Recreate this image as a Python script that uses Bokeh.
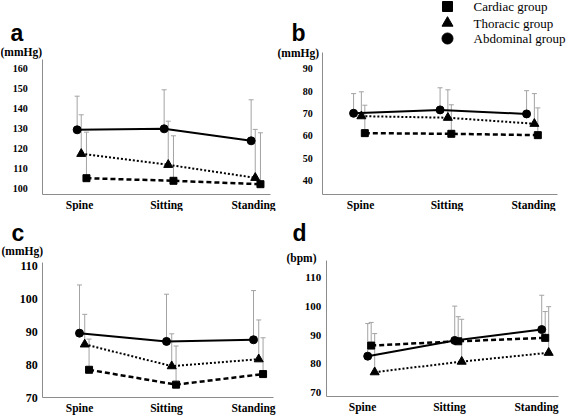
from bokeh.plotting import figure
from bokeh.models import FixedTicker, Label, Whisker, TeeHead, ColumnDataSource, Range1d
from bokeh.layouts import column, row
from bokeh.embed import file_html
from bokeh.resources import INLINE

# ---------------- data ----------------
categories = ["Spine", "Sitting", "Standing"]
group_names = ["Cardiac group", "Thoracic group", "Abdominal group"]

# panel a (mmHg)
a_cardiac = [105.3, 104.0, 102.3]
a_cardiac_sd = [23.0, 22.5, 25.7]
a_thoracic = [117.5, 112.0, 105.5]
a_thoracic_sd = [19.5, 21.8, 24.2]
a_abdominal = [129.5, 130.0, 124.0]
a_abdominal_sd = [16.8, 19.5, 20.5]
a_ticks = [100, 110, 120, 130, 140, 150, 160]

# panel b (mmHg)
b_cardiac = [61.2, 60.9, 60.3]
b_cardiac_sd = [12.5, 13.0, 12.2]
b_thoracic = [68.8, 68.1, 65.4]
b_thoracic_sd = [10.9, 12.5, 13.5]
b_abdominal = [70.1, 71.6, 69.8]
b_abdominal_sd = [8.8, 9.9, 10.4]
b_ticks = [40, 50, 60, 70, 80, 90]

# panel c (mmHg)
c_cardiac = [78.4, 73.9, 77.1]
c_cardiac_sd = [9.3, 11.7, 11.0]
c_thoracic = [86.1, 79.5, 81.6]
c_thoracic_sd = [9.1, 9.8, 11.9]
c_abdominal = [89.5, 87.0, 87.5]
c_abdominal_sd = [14.6, 14.3, 14.9]
c_ticks = [70, 80, 90, 100, 110]

# panel d (bpm)
d_cardiac = [86.3, 87.8, 89.0]
d_cardiac_sd = [8.1, 8.6, 9.2]
d_thoracic = [77.0, 80.7, 83.8]
d_thoracic_sd = [13.5, 14.8, 16.1]
d_abdominal = [82.6, 88.1, 91.9]
d_abdominal_sd = [11.4, 12.0, 12.0]
d_ticks = [70, 80, 90, 100, 110]

# ---------------- layout geometry ----------------
COL_W = [276, 291]
ROW_H = [211, 206]

ERR_COLOR = "#a3a3a3"
AXIS_COLOR = "#8c8c8c"

# axis box (L, R, T, B) in page px, category px, tick px
GEOM = {
    "a": dict(col=0, rowi=0, frame=(42.3, 270, 59.3, 194), cat=(79, 253),
              tick=((100, 188.3), (160, 68.3)), ystand=15, ysize="10px",
              offs=(0.08, 0.02, -0.027)),
    "b": dict(col=1, rowi=0, frame=(322.3, 557, 52, 194), cat=(360, 533),
              tick=((40, 180), (90, 68.3)), ystand=10, ysize="10px",
              offs=(0.05, 0.01, -0.08)),
    "c": dict(col=0, rowi=1, frame=(42.3, 273, 261.7, 397), cat=(79, 253),
              tick=((70, 397), (110, 265)), ystand=5, ysize="12px",
              offs=(0.11, 0.06, 0.0)),
    "d": dict(col=1, rowi=1, frame=(325.7, 558, 260, 396), cat=(362, 536),
              tick=((70, 391.7), (110, 277.3)), ystand=5, ysize="11px",
              offs=(0.10, 0.14, 0.06)),
}


def make_panel(key, series, ticks, letter, unit, letter_pos, unit_pos):
    g = GEOM[key]
    L, R, T, B = g["frame"]
    c0, c1 = g["cat"]
    ppx = (c1 - c0) / 2.0
    (v0, p0), (v1, p1) = g["tick"]
    ppy = (p0 - p1) / (v1 - v0)

    def ydat(py):
        return v0 + (p0 - py) / ppy

    def xdat(px):
        return (px - c0) / ppx

    ox = sum(COL_W[: g["col"]])
    oy = sum(ROW_H[: g["rowi"]])
    W, H = COL_W[g["col"]], ROW_H[g["rowi"]]
    x_range = Range1d(xdat(ox), xdat(ox + W))
    y_range = Range1d(ydat(oy + H), ydat(oy))

    p = figure(width=W, height=H, x_range=x_range, y_range=y_range,
               output_backend="svg", toolbar_location=None, title=None,
               min_border=0, min_border_left=0, min_border_right=0,
               min_border_top=0, min_border_bottom=0)
    p.xgrid.visible = False
    p.ygrid.visible = False
    p.outline_line_color = None
    p.background_fill_color = "white"
    p.border_fill_color = "white"

    for ax in (p.xaxis[0], p.yaxis[0]):
        ax.axis_line_color = AXIS_COLOR
        ax.axis_line_width = 1
        ax.major_tick_line_color = None
        ax.minor_tick_line_color = None
        ax.major_tick_out = 0
        ax.major_tick_in = 0
        ax.major_label_text_font = "Liberation Serif"
        ax.major_label_text_font_style = "bold"
        ax.major_label_text_color = "black"

    p.xaxis.ticker = FixedTicker(ticks=[0, 1, 2])
    p.xaxis.major_label_overrides = {i: c for i, c in enumerate(categories)}
    p.xaxis.major_label_text_font_size = "11.5px"
    p.xaxis.major_label_standoff = 4
    p.xaxis.fixed_location = ydat(B)
    p.xaxis.bounds = (xdat(L), xdat(R))
    p.yaxis.ticker = FixedTicker(ticks=ticks)
    p.yaxis.major_label_text_font_size = g["ysize"]
    p.yaxis.major_label_standoff = g["ystand"]
    p.yaxis.fixed_location = xdat(L)
    p.yaxis.bounds = (ydat(B), ydat(T))

    styles = [
        ("square", 7, "5 3", 2.5),     # cardiac
        ("triangle", 9, "2 2", 2.0),   # thoracic
        ("circle", 8, "solid", 2.0),   # abdominal
    ]
    for (mean, sd), (marker, size, dash, lw), off in zip(series, styles, g["offs"]):
        xs = [i + off for i in range(len(categories))]
        src = ColumnDataSource(dict(x=xs, y=mean, upper=[m + s for m, s in zip(mean, sd)]))
        p.add_layout(Whisker(source=src, base="x", lower="y", upper="upper",
                             line_color=ERR_COLOR, line_width=1, lower_head=None,
                             upper_head=TeeHead(size=5, line_color=ERR_COLOR, line_width=1)))
        p.line("x", "y", source=src, line_color="black", line_width=lw, line_dash=dash)
        p.scatter("x", "y", source=src, marker=marker, size=size,
                  fill_color="black", line_color="black")

    p.add_layout(Label(x=xdat(letter_pos[0]), y=ydat(letter_pos[1]), text=letter,
                       text_font="Liberation Sans", text_font_style="bold",
                       text_font_size="23px", text_baseline="alphabetic",
                       text_align="left", text_color="black"))
    p.add_layout(Label(x=xdat(unit_pos[0]), y=ydat(unit_pos[1]), text=unit,
                       text_font="Liberation Serif", text_font_style="bold",
                       text_font_size="11.5px", text_baseline="middle",
                       text_align="left", text_color="black"))
    return p, xdat, ydat


pa, _, _ = make_panel("a", [(a_cardiac, a_cardiac_sd), (a_thoracic, a_thoracic_sd),
                            (a_abdominal, a_abdominal_sd)], a_ticks, "a", "(mmHg)",
                      (10, 32), (0, 51))
pb, bx, by = make_panel("b", [(b_cardiac, b_cardiac_sd), (b_thoracic, b_thoracic_sd),
                              (b_abdominal, b_abdominal_sd)], b_ticks, "b", "(mmHg)",
                        (291, 32), (277, 52))
pc, _, _ = make_panel("c", [(c_cardiac, c_cardiac_sd), (c_thoracic, c_thoracic_sd),
                            (c_abdominal, c_abdominal_sd)], c_ticks, "c", "(mmHg)",
                      (11, 232), (1, 250))
pd_, _, _ = make_panel("d", [(d_cardiac, d_cardiac_sd), (d_thoracic, d_thoracic_sd),
                             (d_abdominal, d_abdominal_sd)], d_ticks, "d", "(bpm)",
                       (292, 232), (286, 257))

# legend (top right, in panel b)
legend_markers = ["square", "triangle", "circle"]
legend_sizes = [10, 11, 11]
legend_y = [6, 22.5, 38]
pb.scatter(x=[bx(447)] * 3, y=[by(v) for v in legend_y], marker=legend_markers,
           size=legend_sizes, fill_color="black", line_color="black")
for name, ly in zip(group_names, legend_y):
    pb.add_layout(Label(x=bx(473), y=by(ly), text=name, text_font="Liberation Serif",
                        text_font_size="13px", text_align="left",
                        text_baseline="middle", text_color="black"))

layout = column(row(pa, pb), row(pc, pd_))
open("out.html", "w").write(file_html(layout, INLINE))
